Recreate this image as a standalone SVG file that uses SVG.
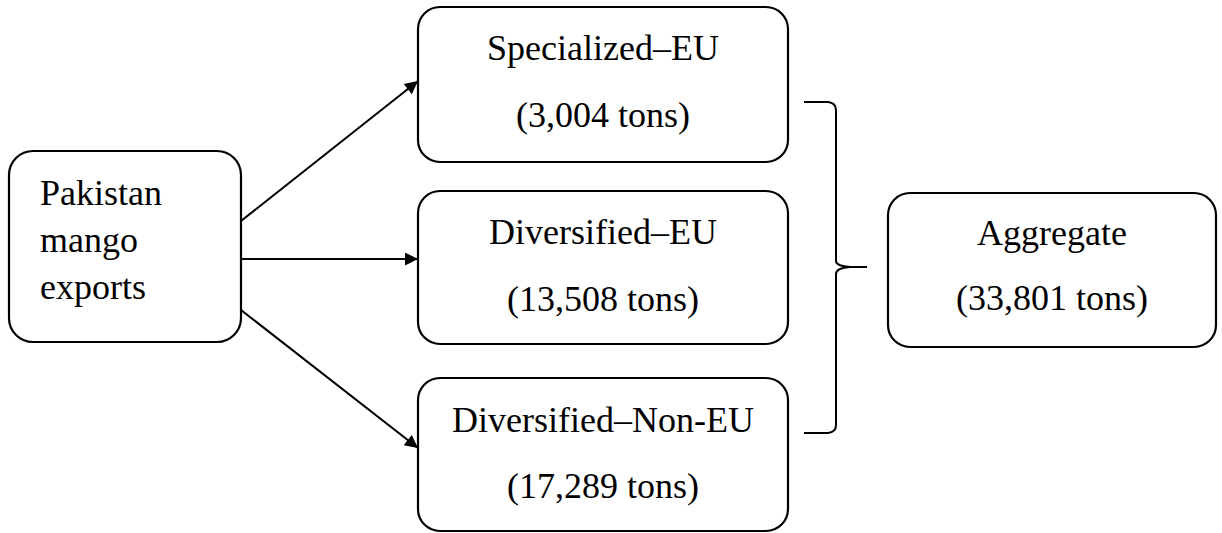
<svg xmlns="http://www.w3.org/2000/svg" width="1222" height="533" viewBox="0 0 1222 533">
<style>
.box{fill:#fff;stroke:#000;stroke-width:2.2}
.t{font-family:"Liberation Serif","Times New Roman",serif;font-size:36px;fill:#000}
.c{text-anchor:middle}
.ln{fill:none;stroke:#000;stroke-width:2}
</style>
<defs>
<marker id="ah" viewBox="0 0 10 10" markerUnits="userSpaceOnUse" markerWidth="17" markerHeight="13" refX="10" refY="5" orient="auto">
<path d="M0,0 L10,5 L0,10 z" fill="#000"/>
</marker>
</defs>
<rect width="1222" height="533" fill="#fff"/>
<g id="connectors">
<line class="ln" x1="241" y1="221" x2="418" y2="81" marker-end="url(#ah)"/>
<line class="ln" x1="241" y1="259" x2="418" y2="259" marker-end="url(#ah)"/>
<line class="ln" x1="241" y1="310" x2="418" y2="448" marker-end="url(#ah)"/>
<path class="ln" d="M804,102 L828,102 Q836,103 836,110 L836,261 Q836,266 850,267 L867,267 M850,267 Q836,268 836,274 L836,425 Q836,432 828,433 L804,433"/>
</g>
<g id="n-pakistan">
<rect class="box" x="9" y="151" width="232" height="191" rx="24"/>
<text class="t" x="40" y="205">Pakistan</text>
<text class="t" x="40" y="252">mango</text>
<text class="t" x="40" y="299">exports</text>
</g>
<g id="n-specialized-eu">
<rect class="box" x="418" y="7" width="370" height="155" rx="22"/>
<text class="t c" x="603" y="60">Specialized–EU</text>
<text class="t c" x="603" y="127">(3,004 tons)</text>
</g>
<g id="n-diversified-eu">
<rect class="box" x="418" y="191" width="370" height="153" rx="22"/>
<text class="t c" x="603" y="244">Diversified–EU</text>
<text class="t c" x="603" y="311">(13,508 tons)</text>
</g>
<g id="n-diversified-noneu">
<rect class="box" x="418" y="378" width="370" height="153" rx="22"/>
<text class="t c" x="603" y="432">Diversified–Non-EU</text>
<text class="t c" x="603" y="498">(17,289 tons)</text>
</g>
<g id="n-aggregate">
<rect class="box" x="888" y="193" width="328" height="154" rx="22"/>
<text class="t c" x="1052" y="245">Aggregate</text>
<text class="t c" x="1052" y="310">(33,801 tons)</text>
</g>
</svg>
